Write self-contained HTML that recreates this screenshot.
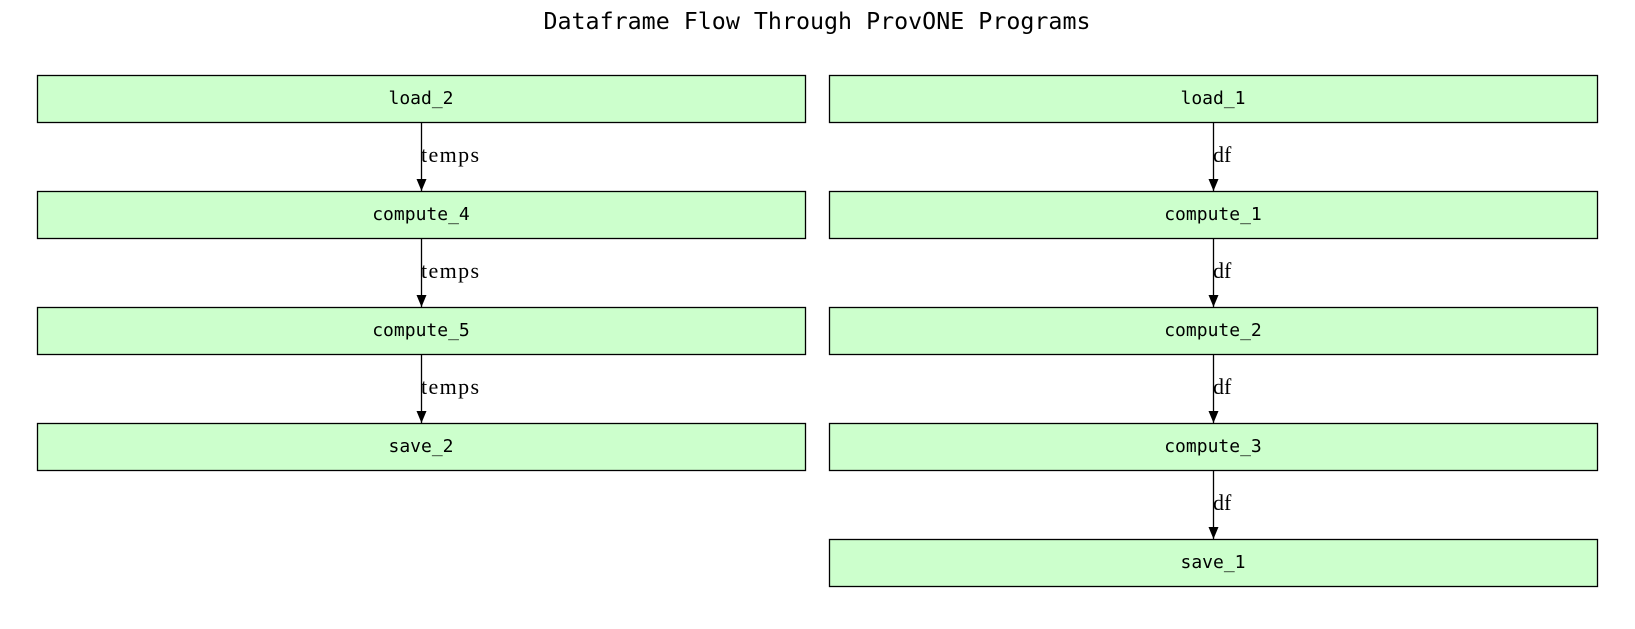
<!DOCTYPE html>
<html><head><meta charset="utf-8"><style>html,body{margin:0;padding:0;background:#fff}</style></head>
<body>
<svg width="1635" height="624" viewBox="0 0 1635 624" xmlns="http://www.w3.org/2000/svg">
<defs><marker id="a" markerWidth="12" markerHeight="10" refX="12" refY="5" orient="auto" markerUnits="userSpaceOnUse" viewBox="0 0 12 10"><path d="M0,0 L12,5 L0,10 z" fill="#000"/></marker></defs>
<text x="817" y="29" font-family="DejaVu Sans Mono, Liberation Mono, monospace" font-size="23.3" text-anchor="middle">Dataframe Flow Through ProvONE Programs</text>
<g font-family="DejaVu Sans Mono, Liberation Mono, monospace" font-size="18" text-anchor="middle">
<g fill="#ccffcc" stroke="#000" stroke-width="1.3">
<rect x="37.5" y="75.5" width="768" height="47"/><rect x="37.5" y="191.5" width="768" height="47"/><rect x="37.5" y="307.5" width="768" height="47"/><rect x="37.5" y="423.5" width="768" height="47"/>
<rect x="829.5" y="75.5" width="768" height="47"/><rect x="829.5" y="191.5" width="768" height="47"/><rect x="829.5" y="307.5" width="768" height="47"/><rect x="829.5" y="423.5" width="768" height="47"/><rect x="829.5" y="539.5" width="768" height="47"/>
</g>
<text x="421" y="104">load_2</text><text x="421" y="220">compute_4</text><text x="421" y="336">compute_5</text><text x="421" y="452">save_2</text>
<text x="1213" y="104">load_1</text><text x="1213" y="220">compute_1</text><text x="1213" y="336">compute_2</text><text x="1213" y="452">compute_3</text><text x="1213" y="568">save_1</text>
</g>
<g stroke="#000" stroke-width="1.3" marker-end="url(#a)">
<line x1="421.5" y1="123" x2="421.5" y2="191"/><line x1="421.5" y1="239" x2="421.5" y2="307"/><line x1="421.5" y1="355" x2="421.5" y2="423"/>
<line x1="1213.5" y1="123" x2="1213.5" y2="191"/><line x1="1213.5" y1="239" x2="1213.5" y2="307"/><line x1="1213.5" y1="355" x2="1213.5" y2="423"/><line x1="1213.5" y1="471" x2="1213.5" y2="539"/>
</g>
<g font-family="Liberation Serif, DejaVu Serif, serif" font-size="22">
<text x="421" y="162" textLength="58">temps</text><text x="421" y="278" textLength="58">temps</text><text x="421" y="394" textLength="58">temps</text>
<text x="1213" y="162">df</text><text x="1213" y="278">df</text><text x="1213" y="394">df</text><text x="1213" y="510">df</text>
</g>
</svg>
</body></html>
